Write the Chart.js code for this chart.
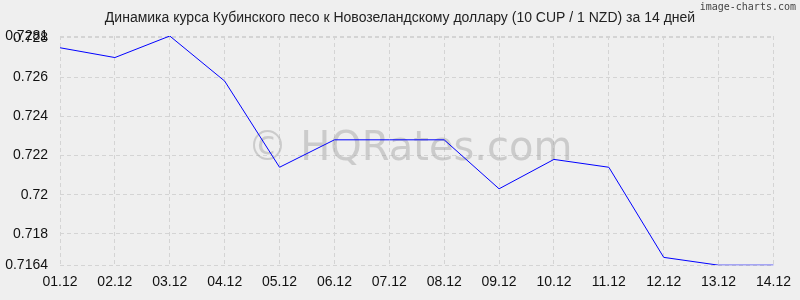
<!DOCTYPE html>
<html>
<head>
<meta charset="utf-8">
<script src="https://cdn.jsdelivr.net/npm/chart.js@4"></script>
<style>
  body { margin: 0; background: #efefef; }
  #wrap { width: 800px; height: 300px; }
</style>
</head>
<body>
<div id="wrap"><canvas id="grafico"></canvas></div>
<script>
// fechas y cotizaciones
const dias = ['01.12','02.12','03.12','04.12','05.12','06.12','07.12','08.12','09.12','10.12','11.12','12.12','13.12','14.12'];
const tasas = [0.7275, 0.7270, 0.7281, 0.7258, 0.7214, 0.7228, 0.7228, 0.7228, 0.7203, 0.7218, 0.7214, 0.7168, 0.7164, 0.7164];
const marcasY = [0.7164, 0.718, 0.72, 0.722, 0.724, 0.726, 0.728, 0.7281];
const titulo = 'Динамика курса Кубинского песо к Новозеландскому доллару (10 CUP / 1 NZD) за 14 дней';

const extras = {
    id: 'extras',
    beforeDraw(chart) {
        const c = chart.ctx;
        c.save();
        c.fillStyle = '#efefef';
        c.fillRect(0, 0, chart.width, chart.height);
        c.restore();
    },
    beforeDatasetsDraw(chart) {
        const c = chart.ctx;
        c.save();
        c.fillStyle = 'rgba(160,160,160,0.45)';
        c.font = '40px "DejaVu Sans", sans-serif';
        c.textAlign = 'center';
        c.textBaseline = 'middle';
        c.fillText('© HQRates.com', 410, 150);
        c.restore();
    },
    afterDraw(chart) {
        const c = chart.ctx;
        c.save();
        c.fillStyle = '#222';
        c.font = '14px "Liberation Sans", Arial, sans-serif';
        c.textAlign = 'center';
        c.textBaseline = 'middle';
        c.fillText(titulo, 400, 18);
        c.font = '10px "DejaVu Sans Mono", monospace';
        c.fillStyle = '#444';
        c.textAlign = 'right';
        c.fillText('image-charts.com', 796, 7);
        c.restore();
    }
};

const ctx = document.getElementById('grafico').getContext('2d');
new Chart(ctx, {
    type: 'line',
    data: {
        labels: dias,
        datasets: [{
            data: tasas,
            borderColor: '#0000ff',
            borderWidth: 1,
            pointRadius: 0,
            fill: false,
            tension: 0
        }]
    },
    options: {
        responsive: true,
        maintainAspectRatio: false,
        animation: false,
        layout: { padding: { top: 36, right: 18, bottom: 0, left: 0 } },
        plugins: {
            legend: { display: false },
            tooltip: { enabled: false }
        },
        scales: {
            x: {
                offset: false,
                grid: { color: '#d4d4d4', drawTicks: false },
                border: { display: false, dash: [4, 3] },
                ticks: { color: '#111', font: { size: 14, family: '"Liberation Sans", Arial, sans-serif' }, padding: 9, maxRotation: 0, autoSkip: false }
            },
            y: {
                min: 0.7164,
                max: 0.7281,
                afterBuildTicks: axis => { axis.ticks = marcasY.map(v => ({ value: v })); },
                afterFit: axis => { axis.width = 60; },
                grid: { color: '#d4d4d4', drawTicks: false },
                border: { display: false, dash: [4, 3] },
                ticks: {
                    color: '#111',
                    font: { size: 14, family: '"Liberation Sans", Arial, sans-serif' },
                    padding: 12,
                    callback: v => String(+v.toFixed(4))
                }
            }
        }
    },
    plugins: [extras]
});
</script>
</body>
</html>
